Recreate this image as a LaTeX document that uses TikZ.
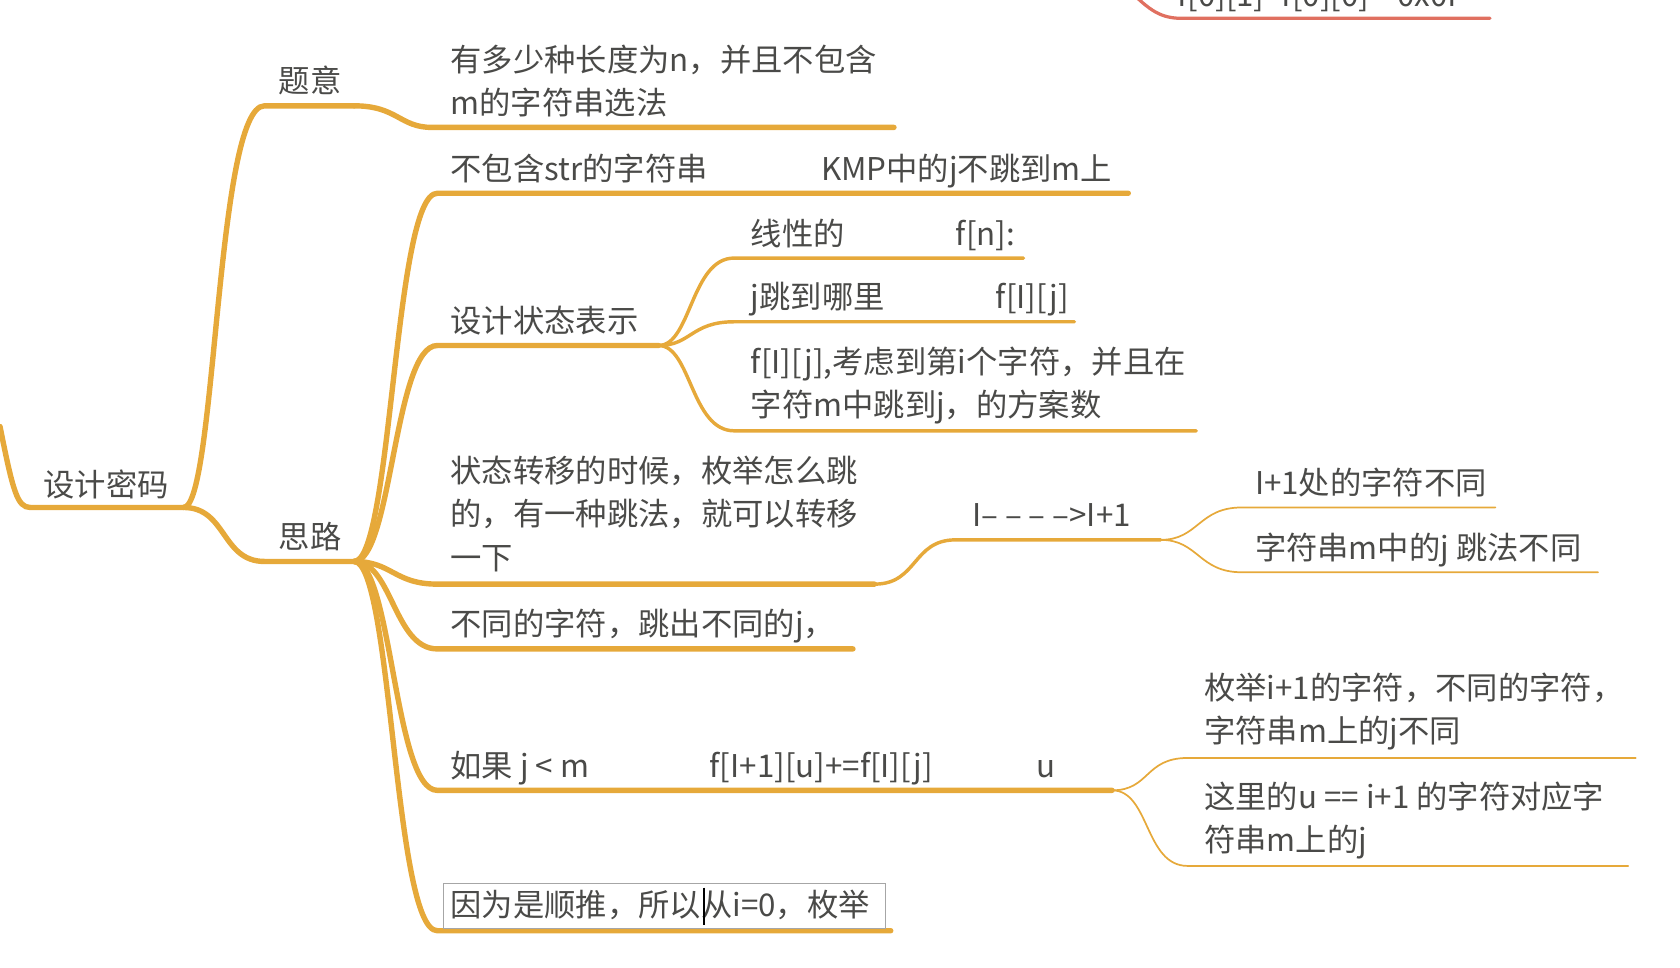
\documentclass[tikz,border=0pt]{standalone}
\usepackage{fontspec}
\setmainfont{Noto Sans CJK SC}
\definecolor{br}{HTML}{E6A93A}
\definecolor{rd}{HTML}{E07060}
\definecolor{tx}{HTML}{4A4A48}
\begin{document}
\begin{tikzpicture}[x=0.5pt,y=-0.5pt,
  lbl/.style={anchor=base west,inner sep=0,text=tx,font=\fontsize{14.5}{20}\selectfont,align=left},
  thick1/.style={draw=br,line width=2.5pt,line cap=round},
  thick2/.style={draw=br,line width=1.6pt,line cap=round},
  thick3/.style={draw=br,line width=0.8pt,line cap=round}]
\useasboundingbox (0,0) rectangle (1556,896);
\begin{scope}
\clip (0,0) rectangle (1556,896);
% red top
\coordinate (r0) at (1045,-10);
\coordinate (r1) at (1095,17);
\coordinate (r2) at (1380,17);
\draw[rd,line width=1.5pt,line cap=round] (r0) .. controls +(20,20) and +(-20,0) .. (r1) -- (r2);
\node[lbl] (rt) at (1090,6) {f[0][1]=f[0][0]=-0x0f};
% root
\coordinate (a0) at (0,395);
\coordinate (a1) at (28,470);
\coordinate (a2) at (170,470);
\draw[thick1] (a0) .. controls +(12,60) and +(-12,0) .. (a1) -- (a2);
\node[lbl] (root) at (40,460) {设计密码};
% 题意
\coordinate (t1) at (245,98); \coordinate (t2) at (328,98);
\draw[thick1] (a2) .. controls +(30,0) and +(-45,0) .. (t1) -- (t2);
\node[lbl] (ty) at (258,86) {题意};
\coordinate (t3) at (400,118); \coordinate (t4) at (828,118);
\draw[thick1] (t2) .. controls +(40,0) and +(-30,0) .. (t3) -- (t4);
\node[lbl] (tyd) at (417,106) {有多少种长度为n，并且不包含\\m的字符串选法};
% 思路
\coordinate (s1) at (245,520); \coordinate (s2) at (328,520);
\draw[thick1] (a2) .. controls +(40,0) and +(-40,0) .. (s1) -- (s2);
\node[lbl] (sl) at (258,508) {思路};
% branch 1
\coordinate (b1) at (405,179); \coordinate (b2) at (670,179); \coordinate (b3) at (1045,179);
\draw[thick1] (s2) .. controls +(35,0) and +(-40,0) .. (b1) -- (b3);
\node[lbl] (n1) at (417,167) {不包含str的字符串};
\node[lbl] (n1b) at (760,167) {KMP中的j不跳到m上};
% branch 2
\coordinate (c1) at (405,320); \coordinate (c2) at (610,320);
\draw[thick1] (s2) .. controls +(35,0) and +(-40,0) .. (c1) -- (c2);
\node[lbl] (n2) at (417,308) {设计状态表示};
\coordinate (d1) at (680,239); \coordinate (d2) at (948,239);
\draw[thick2] (c2) .. controls +(30,0) and +(-40,0) .. (d1) -- (d2);
\node[lbl] (n21) at (695,227) {线性的};
\node[lbl] (n21b) at (885,227) {f[n]:};
\coordinate (e1) at (680,298); \coordinate (e2) at (995,298);
\draw[thick2] (c2) .. controls +(30,0) and +(-40,0) .. (e1) -- (e2);
\node[lbl] (n22) at (695,286) {j跳到哪里};
\node[lbl] (n22b) at (922,286) {f[I][j]};
\coordinate (f1) at (680,399); \coordinate (f2) at (1108,399);
\draw[thick2] (c2) .. controls +(30,0) and +(-40,0) .. (f1) -- (f2);
\node[lbl] (n23) at (695,386) {f[I][j],考虑到第i个字符，并且在\\字符m中跳到j，的方案数};
% branch 3
\coordinate (g1) at (405,541); \coordinate (g2) at (810,541);
\draw[thick1] (s2) .. controls +(35,0) and +(-40,0) .. (g1) -- (g2);
\node[lbl] (n3) at (417,527) {状态转移的时候，枚举怎么跳\\的，有一种跳法，就可以转移\\一下};
\coordinate (h1) at (885,500); \coordinate (h2) at (1075,500);
\draw[thick2] (g2) .. controls +(40,0) and +(-40,0) .. (h1) -- (h2);
\node[lbl] (n31) at (900,488) {I– – – –>I+1};
\coordinate (i1) at (1150,470); \coordinate (i2) at (1385,470);
\draw[thick3] (h2) .. controls +(35,0) and +(-40,0) .. (i1) -- (i2);
\node[lbl] (n311) at (1162,458) {I+1处的字符不同};
\coordinate (j1) at (1150,530); \coordinate (j2) at (1480,530);
\draw[thick3] (h2) .. controls +(35,0) and +(-40,0) .. (j1) -- (j2);
\node[lbl] (n312) at (1162,518) {字符串m中的j 跳法不同};
% branch 4
\coordinate (k1) at (405,601); \coordinate (k2) at (790,601);
\draw[thick1] (s2) .. controls +(35,0) and +(-40,0) .. (k1) -- (k2);
\node[lbl] (n4) at (417,589) {不同的字符，跳出不同的j，};
% branch 5
\coordinate (l1) at (405,732); \coordinate (l2) at (1030,732);
\draw[thick1] (s2) .. controls +(35,0) and +(-40,0) .. (l1) -- (l2);
\node[lbl] (n5) at (417,720) {如果 j < m};
\node[lbl] (n5b) at (657,720) {f[I+1][u]+=f[I][j]};
\node[lbl] (n5c) at (960,720) {u};
\coordinate (m1) at (1100,702); \coordinate (m2) at (1515,702);
\draw[thick3] (l2) .. controls +(35,0) and +(-40,0) .. (m1) -- (m2);
\node[lbl] (n51) at (1115,688) {枚举i+1的字符，不同的字符，\\字符串m上的j不同};
\coordinate (o1) at (1100,802); \coordinate (o2) at (1508,802);
\draw[thick3] (l2) .. controls +(35,0) and +(-40,0) .. (o1) -- (o2);
\node[lbl] (n52) at (1115,789) {这里的u == i+1 的字符对应字\\符串m上的j};
% branch 6
\coordinate (p1) at (405,862); \coordinate (p2) at (825,862);
\draw[thick1] (s2) .. controls +(35,0) and +(-40,0) .. (p1) -- (p2);
\draw[gray!70,line width=0.5pt] (411,818) rectangle (820,860);
\node[lbl] (n6) at (417,849) {因为是顺推，所以从i=0，枚举};
\draw[black,line width=0.8pt] (652,822) -- (652,857);
\end{scope}
\end{tikzpicture}
\end{document}
